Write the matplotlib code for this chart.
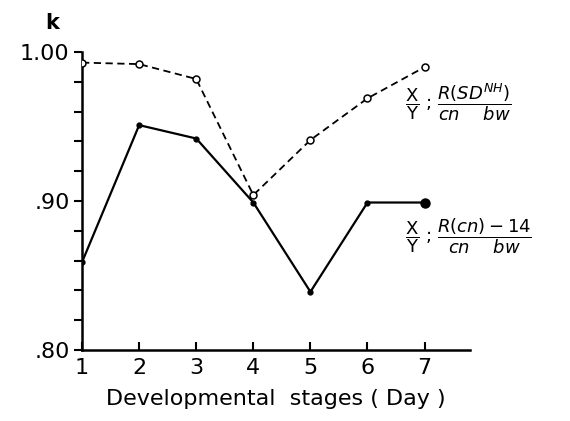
import matplotlib
matplotlib.use("Agg")
import matplotlib.pyplot as plt
import numpy as np

# data
days = [1, 2, 3, 4, 5, 6, 7]
k_sd = [0.993, 0.992, 0.982, 0.904, 0.941, 0.969, 0.990]    # dashed, open circles
k_cn = [0.859, 0.951, 0.942, 0.899, 0.839, 0.899, 0.899]    # solid, filled dots
ytick_vals = [0.80, 0.90, 1.00]
ytick_text = ['.80', '.90', '1.00']

plt.rcParams['font.family'] = ['DejaVu Sans']
plt.rcParams['mathtext.fontset'] = 'dejavusans'

fig = plt.figure(figsize=(5.7, 4.21), dpi=100)
ax = fig.add_axes([0.144, 0.169, 0.681, 0.707])

ax.plot(days, k_sd, color='black', lw=1.3, ls=(0, (4, 2.5)),
        marker='o', ms=5, mfc='white', mec='black', mew=1.1, zorder=3)
ax.plot(days, k_cn, color='black', lw=1.6,
        marker='o', ms=3.5, mfc='black', mec='black', zorder=3)
ax.plot(days[-1], k_cn[-1], marker='o', ms=6.5, color='black', zorder=4)

ax.set_xlim(1, 7.8)
ax.set_ylim(0.80, 1.00)
for s in ['top', 'right']:
    ax.spines[s].set_visible(False)
ax.spines['left'].set_linewidth(1.8)
ax.spines['bottom'].set_linewidth(1.8)

ax.set_xticks(days)
ax.set_xticklabels([str(d) for d in days], fontsize=16)
ax.tick_params(axis='x', direction='in', length=6, width=1.5, pad=6)

ax.set_yticks(ytick_vals)
ax.set_yticklabels(ytick_text, fontsize=16)
ax.set_yticks(np.arange(0.82, 0.99, 0.02), minor=True)
ax.tick_params(axis='y', which='both', direction='out', length=6, width=1.5, pad=3)

ax.set_xlabel('Developmental  stages ( Day )', fontsize=16, labelpad=8)
fig.text(52 / 570, 1 - 23 / 421, 'k', fontsize=15, fontweight='bold',
         ha='center', va='center')

fig.text(405 / 570, 1 - 102 / 421,
         r'$\dfrac{\mathrm{X}}{\mathrm{Y}}$ ; $\dfrac{R(SD^{NH})}{cn\ \ \ \ bw}$',
         fontsize=13, ha='left', va='center')
fig.text(405 / 570, 1 - 236 / 421,
         r'$\dfrac{\mathrm{X}}{\mathrm{Y}}$ ; $\dfrac{R(cn)-14}{cn\ \ \ \ bw}$',
         fontsize=13, ha='left', va='center')

fig.savefig('out.png', dpi=100)
